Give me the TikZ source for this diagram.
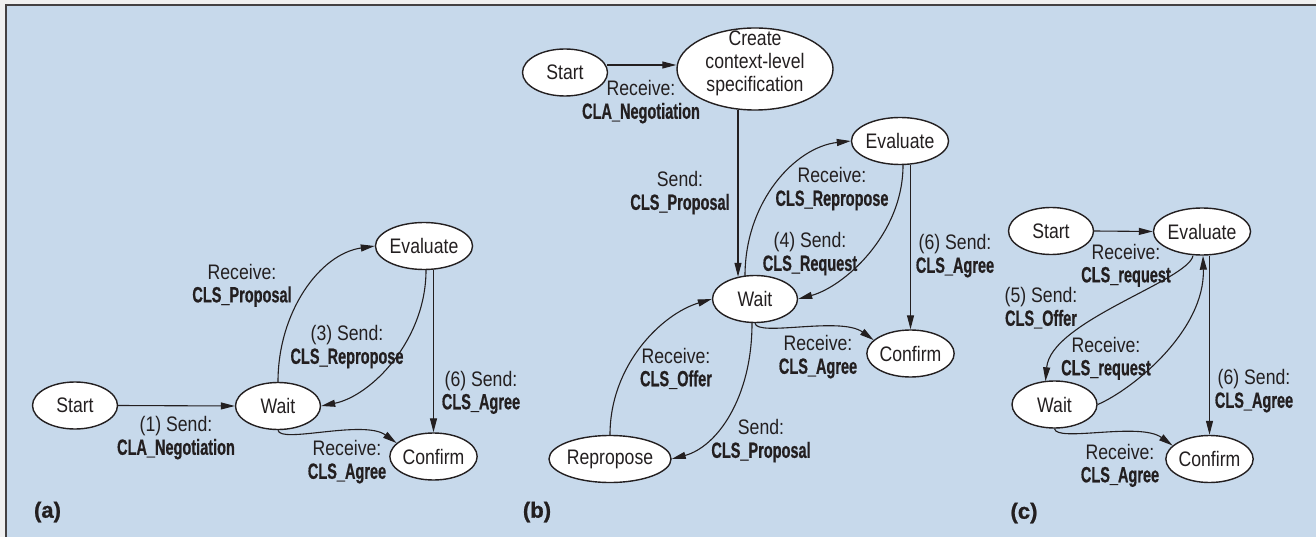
\documentclass[tikz,border=0pt]{standalone}
\usepackage{fontspec}
\setmainfont{Liberation Sans}[FakeStretch=0.84]
\newfontfamily\bcnd{Liberation Sans}[FakeStretch=0.66,BoldFeatures={FakeBold=0.6}]
\newfontfamily\pbold{Liberation Sans}[BoldFeatures={FakeBold=1}]
\usetikzlibrary{shapes.geometric,arrows.meta,calc}
\definecolor{bgblue}{RGB}{199,217,235}
\definecolor{ink}{RGB}{35,31,32}
\newcommand{\tlab}[2]{#1\\{\bcnd\bfseries\fontsize{22}{23}\selectfont #2}}
\begin{document}
\begin{tikzpicture}[x=1pt,y=-1pt,
  st/.style={ellipse,draw=ink,fill=white,line width=1.4pt,minimum width=85pt,minimum height=47pt,inner sep=0pt,text=ink,font=\fontsize{21}{23}\selectfont},
  arr/.style={draw=ink,line width=1.1pt,-{Triangle[length=14pt,width=7pt]}},
  lab/.style={align=center,text=ink,font=\fontsize{21}{23}\selectfont,inner sep=0pt},
  plab/.style={text=ink,font=\pbold\bfseries\fontsize{22}{24}\selectfont,inner sep=0pt}]
\useasboundingbox (0,0) rectangle (1316,537);
\fill[gray!12] (0,0) rectangle (1316,537);
\fill[bgblue] (6,5) rectangle (1316,537);
\draw[line width=1.5pt,ink!85] (6,537) -- (6,5) -- (1316,5);

% ---------- (a)
\node[st] (sa) at (75,405.5) {Start};
\node[st] (wa) at (278,406) {Wait};
\node[st] (ea) at (424,246) {Evaluate};
\node[st] (ca) at (433.5,456.5) {Confirm};
\draw[arr] (sa.east) -- (wa.west);
\draw[arr] (wa.north) .. controls +(0,-70) and +(-55,8) .. (ea.west);
\draw[arr] ($(ea.south)+(2,0)$) .. controls +(0,70) and +(50,-10) .. (wa.east);
\draw[arr] (ca.north |- ea.south) -- (ca.north);
\draw[arr] (wa.south) .. controls +(2,14) and +(-33,-24) .. (ca.160);
\node[lab] (la1) at (176,438) {\tlab{(1) Send:}{CLA\_Negotiation}};
\node[lab] (la2) at (242,285.5) {\tlab{Receive:}{CLS\_Proposal}};
\node[lab] (la3) at (347,347) {\tlab{(3) Send:}{CLS\_Repropose}};
\node[lab] (la4) at (481,392.5) {\tlab{(6) Send:}{CLS\_Agree}};
\node[lab] (la5) at (347,462) {\tlab{Receive:}{CLS\_Agree}};
\node[plab] (pa) at (47.5,512) {(a)};

% ---------- (b)
\node[st] (sb) at (565,72.5) {Start};
\node[st,minimum width=156pt,minimum height=82pt] (cr) at (755,69) {};
\node[lab] (crt) at (755,63) {Create\\context-level\\specification};
\node[st] (wb) at (755,299) {Wait};
\node[st] (eb) at (900,141) {Evaluate};
\node[st] (cb) at (910.5,353.5) {Confirm};
\node[st,minimum width=113pt] (rp) at (610,459) {Repropose};
\coordinate (sbo) at ($(sb.east)+(-1,-7.5)$);
\draw[arr] (sbo) -- (sbo -| cr.west);
\draw[arr] ($(cr.south)+(-17,-1)$) -- ($(wb.north)+(-17,2)$);
\draw[arr] ($(wb.north)+(-10,1)$) .. controls +(0,-75) and +(-55,6) .. (eb.west);
\draw[arr] ($(eb.south)+(3,0)$) .. controls +(0,70) and +(45,-12) .. (wb.east);
\draw[arr] (cb.north |- eb.south) -- (cb.north);
\draw[arr] (wb.south) .. controls +(2,14) and +(-33,-24) .. (cb.160);
\draw[arr] (rp.north) .. controls +(0,-70) and +(-50,15) .. (wb.west);
\draw[arr] ($(wb.south)+(-3,0)$) .. controls +(0,75) and +(45,-12) .. (rp.east);
\node[lab] (lb1) at (641,102) {\tlab{Receive:}{CLA\_Negotiation}};
\node[lab] (lb2) at (680,193) {\tlab{Send:}{CLS\_Proposal}};
\node[lab] (lb3) at (832,189) {\tlab{Receive:}{CLS\_Repropose}};
\node[lab] (lb4) at (810,254) {\tlab{(4) Send:}{CLS\_Request}};
\node[lab] (lb5) at (955,256) {\tlab{(6) Send:}{CLS\_Agree}};
\node[lab] (lb6) at (818,357) {\tlab{Receive:}{CLS\_Agree}};
\node[lab] (lb7) at (676,368.5) {\tlab{Receive:}{CLS\_Offer}};
\node[lab] (lb8) at (761,441) {\tlab{Send:}{CLS\_Proposal}};
\node[plab] (pb) at (537,512) {(b)};

% ---------- (c)
\node[st] (sc) at (1051,231) {Start};
\node[st] (ec) at (1202,231.5) {Evaluate};
\node[st] (wc) at (1054.5,404.5) {Wait};
\node[st] (cc) at (1209.5,459) {Confirm};
\draw[arr] (sc.east) -- (ec.west);
\draw[arr] ($(ec.south)+(-9,0)$) .. controls +(-5,25) and +(5,-60) .. ($(wc.north)+(-9,1)$);
\draw[arr] (wc.east) .. controls +(35,-15) and +(2,75) .. ($(ec.south)+(1,0)$);
\draw[arr] (cc.north |- ec.south) -- (cc.north);
\draw[arr] (wc.south) .. controls +(2,14) and +(-33,-24) .. (cc.160);
\node[lab] (lc1) at (1126,265.5) {\tlab{Receive:}{CLS\_request}};
\node[lab] (lc2) at (1041,308) {\tlab{(5) Send:}{CLS\_Offer}};
\node[lab] (lc3) at (1106,358.5) {\tlab{Receive:}{CLS\_request}};
\node[lab] (lc4) at (1254,391) {\tlab{(6) Send:}{CLS\_Agree}};
\node[lab] (lc5) at (1120,465.5) {\tlab{Receive:}{CLS\_Agree}};
\node[plab] (pc) at (1024,513) {(c)};
\end{tikzpicture}
\end{document}
